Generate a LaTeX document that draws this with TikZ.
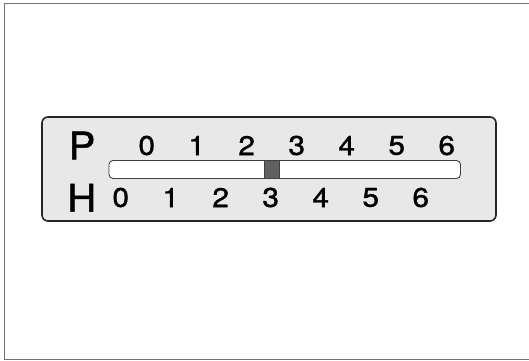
\documentclass[tikz,border=0pt]{standalone}
\usepackage{fontspec}
\setmainfont{TeX Gyre Heros}
\newfontfamily\dialfont[FakeBold=1.3]{TeX Gyre Heros}
\begin{document}
\begin{tikzpicture}[x=1pt,y=-1pt,
  frame/.style={draw=black!55,line width=1pt},
  panel/.style={draw=black!85,line width=1.6pt,fill=black!9,rounded corners=6pt},
  bar/.style={draw=black!75,line width=0.9pt,fill=white,rounded corners=4pt},
  marker/.style={draw=black!75,line width=0.6pt,fill=black!62},
  letter/.style={inner sep=0pt,font=\dialfont\fontsize{38}{38}\selectfont,transform shape,xscale=1.05},
  digit/.style={inner sep=0pt,font=\dialfont\fontsize{27}{27}\selectfont,transform shape,xscale=1.1}]
\useasboundingbox (0,0) rectangle (529,360);
\draw[frame] (529,3) -- (4,3) -- (4,359) -- (529,359);
\draw[panel] (42,117) rectangle (496,221);
\draw[bar] (109,160.5) rectangle (460.5,178.5);
\draw[marker] (264,160.5) rectangle (279,178.5);
\node[letter] (P) at (82,145.5) {P};
\node[letter] (H) at (81.7,197.7) {H};
\foreach \i in {0,...,6}{
  \node[digit] (p\i) at ({146.7+50*\i},145.5) {\i};
  \node[digit] (h\i) at ({120.7+50*\i},197.5) {\i};
}
\end{tikzpicture}
\end{document}
